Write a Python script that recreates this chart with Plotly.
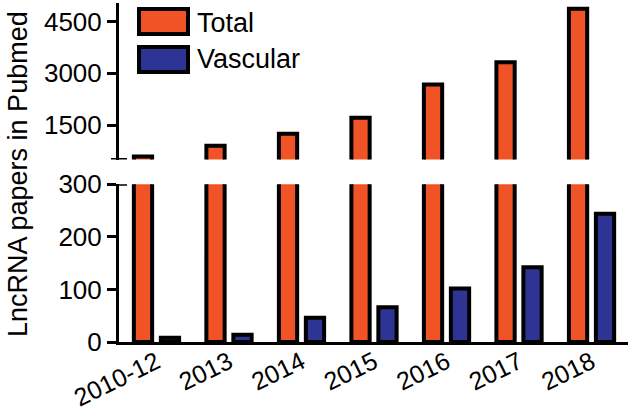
import plotly.graph_objects as go

categories = ["2010-12", "2013", "2014", "2015", "2016", "2017", "2018"]
total = [590, 900, 1250, 1710, 2680, 3320, 4870]
vascular = [8, 14, 46, 66, 102, 142, 244]
series_names = ["Total", "Vascular"]
lower_ticks = [0, 100, 200, 300]
upper_ticks = [1500, 3000, 4500]

ORANGE = "#F05426"
BLUE = "#2D3494"
FONT = "Liberation Sans, Arial, sans-serif"

W, H = 633, 414
ML, MR, MT, MB = 119, 5, 3, 72
PW = W - ML - MR
PH = H - MT - MB

def px_x(p):
    return (p - ML) / PW

def px_y(p):
    return (H - MB - p) / PH

bar_w = 0.252
off = 0.186
line = dict(color="black", width=4)

fig = go.Figure()
# lower panel
fig.add_trace(go.Bar(x=categories, y=total, name=series_names[0], marker=dict(color=ORANGE, line=line),
                     width=bar_w, offset=-off - bar_w / 2, xaxis="x", yaxis="y", showlegend=False))
fig.add_trace(go.Bar(x=categories, y=vascular, name=series_names[1], marker=dict(color=BLUE, line=line),
                     width=bar_w, offset=off - bar_w / 2, xaxis="x", yaxis="y", showlegend=False))
# upper panel
fig.add_trace(go.Bar(x=categories, y=total, name=series_names[0], marker=dict(color=ORANGE, line=line),
                     width=bar_w, offset=-off - bar_w / 2, xaxis="x2", yaxis="y2", showlegend=False))
fig.add_trace(go.Bar(x=categories, y=vascular, name=series_names[1], marker=dict(color=BLUE, line=line),
                     width=bar_w, offset=off - bar_w / 2, xaxis="x2", yaxis="y2", showlegend=False))

lower_top = 184.3
upper_bot = 159.6
xr = [-0.517, 6.503]

axis_common = dict(showgrid=False, zeroline=False, showline=True, linecolor="black", linewidth=3,
                   ticks="outside", ticklen=9, tickwidth=3, tickcolor="black", automargin=False,
                   tickfont=dict(family=FONT, size=26, color="black"))

fig.update_layout(
    width=W, height=H, margin=dict(l=ML, r=MR, t=MT, b=MB, autoexpand=False),
    paper_bgcolor="white", plot_bgcolor="white", barmode="overlay",
    font=dict(family=FONT, size=26, color="black"),
    xaxis=dict(type="category", categoryorder="array", categoryarray=categories, range=xr,
               showgrid=False, zeroline=False, showline=True, linecolor="black", linewidth=3,
               ticks="", tickangle=-26, automargin=False, ticklabelstandoff=-7,
               tickfont=dict(family=FONT, size=25, color="black"),
               anchor="y", domain=[0, 1]),
    xaxis2=dict(type="category", categoryorder="array", categoryarray=categories, range=xr,
                matches="x", visible=False, anchor="y2", domain=[0, 1]),
    yaxis=dict(domain=[0, px_y(lower_top)], range=[0, 300], tickvals=lower_ticks, anchor="x", **axis_common),
    yaxis2=dict(domain=[px_y(upper_bot), 1], range=[500, 5040], tickvals=upper_ticks, anchor="x2", **axis_common),
)

shapes = []
# axis break marks
shapes.append(dict(type="line", xref="paper", yref="y", x0=-8 / PW, x1=8 / PW, y0=300, y1=300,
                   line=dict(color="black", width=3)))
shapes.append(dict(type="line", xref="paper", yref="y2", x0=-8 / PW, x1=8 / PW, y0=500, y1=500,
                   line=dict(color="black", width=3)))
# legend boxes
shapes.append(dict(type="rect", xref="paper", yref="paper", x0=px_x(139), x1=px_x(188),
                   y0=px_y(34), y1=px_y(9), fillcolor=ORANGE, line=dict(color="black", width=4)))
shapes.append(dict(type="rect", xref="paper", yref="paper", x0=px_x(139), x1=px_x(188),
                   y0=px_y(72), y1=px_y(47), fillcolor=BLUE, line=dict(color="black", width=4)))
fig.update_layout(shapes=shapes)

annotations = [
    dict(text=series_names[0], xref="paper", yref="paper", x=px_x(195), y=px_y(23), xanchor="left",
         yanchor="middle", showarrow=False, font=dict(family=FONT, size=27, color="black")),
    dict(text=series_names[1], xref="paper", yref="paper", x=px_x(195), y=px_y(59), xanchor="left",
         yanchor="middle", showarrow=False, font=dict(family=FONT, size=27, color="black")),
    dict(text="LncRNA papers in Pubmed", xref="paper", yref="paper", x=px_x(18), y=px_y(174),
         xanchor="center", yanchor="middle", textangle=-90, showarrow=False,
         font=dict(family=FONT, size=27, color="black")),
]
fig.update_layout(annotations=annotations)

fig.write_html("out.html", config={"displayModeBar": False},
               post_script="document.body.style.margin='0px';")
